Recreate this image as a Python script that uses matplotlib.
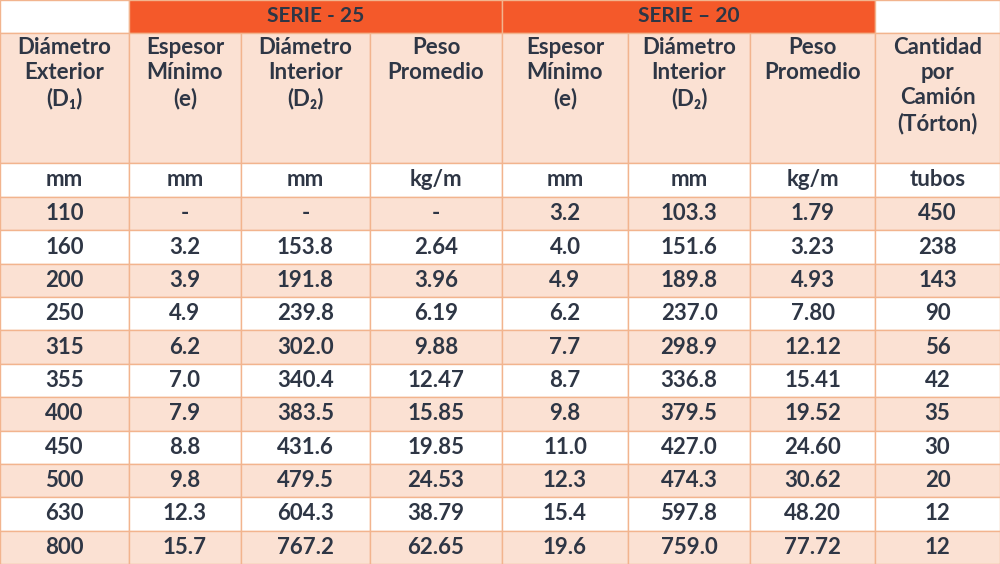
import matplotlib
matplotlib.use("Agg")
import matplotlib.pyplot as plt
from matplotlib.patches import Rectangle

# ── Data ─────────────────────────────────────────────────────────────────────
series_titles = ["SERIE - 25", "SERIE – 20"]
headers = ["Diámetro\nExterior\n(D₁)", "Espesor\nMínimo\n(e)", "Diámetro\nInterior\n(D₂)",
           "Peso\nPromedio", "Espesor\nMínimo\n(e)", "Diámetro\nInterior\n(D₂)",
           "Peso\nPromedio", "Cantidad\npor\nCamión\n(Tórton)"]
units = ["mm", "mm", "mm", "kg/m", "mm", "mm", "kg/m", "tubos"]
diam_ext = ["110", "160", "200", "250", "315", "355", "400", "450", "500", "630", "800"]
s25_espesor = ["-", "3.2", "3.9", "4.9", "6.2", "7.0", "7.9", "8.8", "9.8", "12.3", "15.7"]
s25_diam_int = ["-", "153.8", "191.8", "239.8", "302.0", "340.4", "383.5", "431.6", "479.5", "604.3", "767.2"]
s25_peso = ["-", "2.64", "3.96", "6.19", "9.88", "12.47", "15.85", "19.85", "24.53", "38.79", "62.65"]
s20_espesor = ["3.2", "4.0", "4.9", "6.2", "7.7", "8.7", "9.8", "11.0", "12.3", "15.4", "19.6"]
s20_diam_int = ["103.3", "151.6", "189.8", "237.0", "298.9", "336.8", "379.5", "427.0", "474.3", "597.8", "759.0"]
s20_peso = ["1.79", "3.23", "4.93", "7.80", "12.12", "15.41", "19.52", "24.60", "30.62", "48.20", "77.72"]
cantidad = ["450", "238", "143", "90", "56", "42", "35", "30", "20", "12", "12"]

columns = [diam_ext, s25_espesor, s25_diam_int, s25_peso,
           s20_espesor, s20_diam_int, s20_peso, cantidad]

# ── Layout ───────────────────────────────────────────────────────────────────
W, H = 1000, 564
col_x = [0, 129, 241, 370, 502, 628, 750, 875, 1000]
y_title, y_head, y_units, y_data = 0, 33, 163, 197
row_h = (H - y_data) / len(diam_ext)

ORANGE = "#F4592A"
PEACH = "#FBE1D3"
LINE = "#F2B48E"
TEXT = "#2E3645"
FONT = ["Lato", "DejaVu Sans"]

fig = plt.figure(figsize=(10, 5.64), dpi=100)
ax = fig.add_axes([0, 0, 1, 1])
ax.set_xlim(0, W)
ax.set_ylim(H, 0)
ax.axis("off")


def cell(x0, x1, y0, y1, fc, text, va="center", size=16, ty=None):
    ax.add_patch(Rectangle((x0, y0), x1 - x0, y1 - y0, facecolor=fc,
                           edgecolor=LINE, linewidth=1))
    if text:
        yy = (y0 + y1) / 2 if ty is None else ty
        ax.text((x0 + x1) / 2, yy, text, ha="center", va=va, fontsize=size,
                fontweight="bold", color=TEXT, family=FONT, linespacing=1.25)


# title row
cell(col_x[0], col_x[1], y_title, y_head, "white", "")
cell(col_x[1], col_x[4], y_title, y_head, ORANGE, series_titles[0], size=15)
cell(col_x[4], col_x[7], y_title, y_head, ORANGE, series_titles[1], size=15)
cell(col_x[7], col_x[8], y_title, y_head, "white", "")

for i in range(8):
    cell(col_x[i], col_x[i + 1], y_head, y_units, PEACH, headers[i],
         va="top", ty=y_head + 4)
    cell(col_x[i], col_x[i + 1], y_units, y_data, "white", units[i])

for r in range(len(diam_ext)):
    fc = PEACH if r % 2 == 0 else "white"
    y0 = y_data + r * row_h
    for i, col in enumerate(columns):
        cell(col_x[i], col_x[i + 1], y0, y0 + row_h, fc, col[r])

fig.savefig("out.png", dpi=100)
